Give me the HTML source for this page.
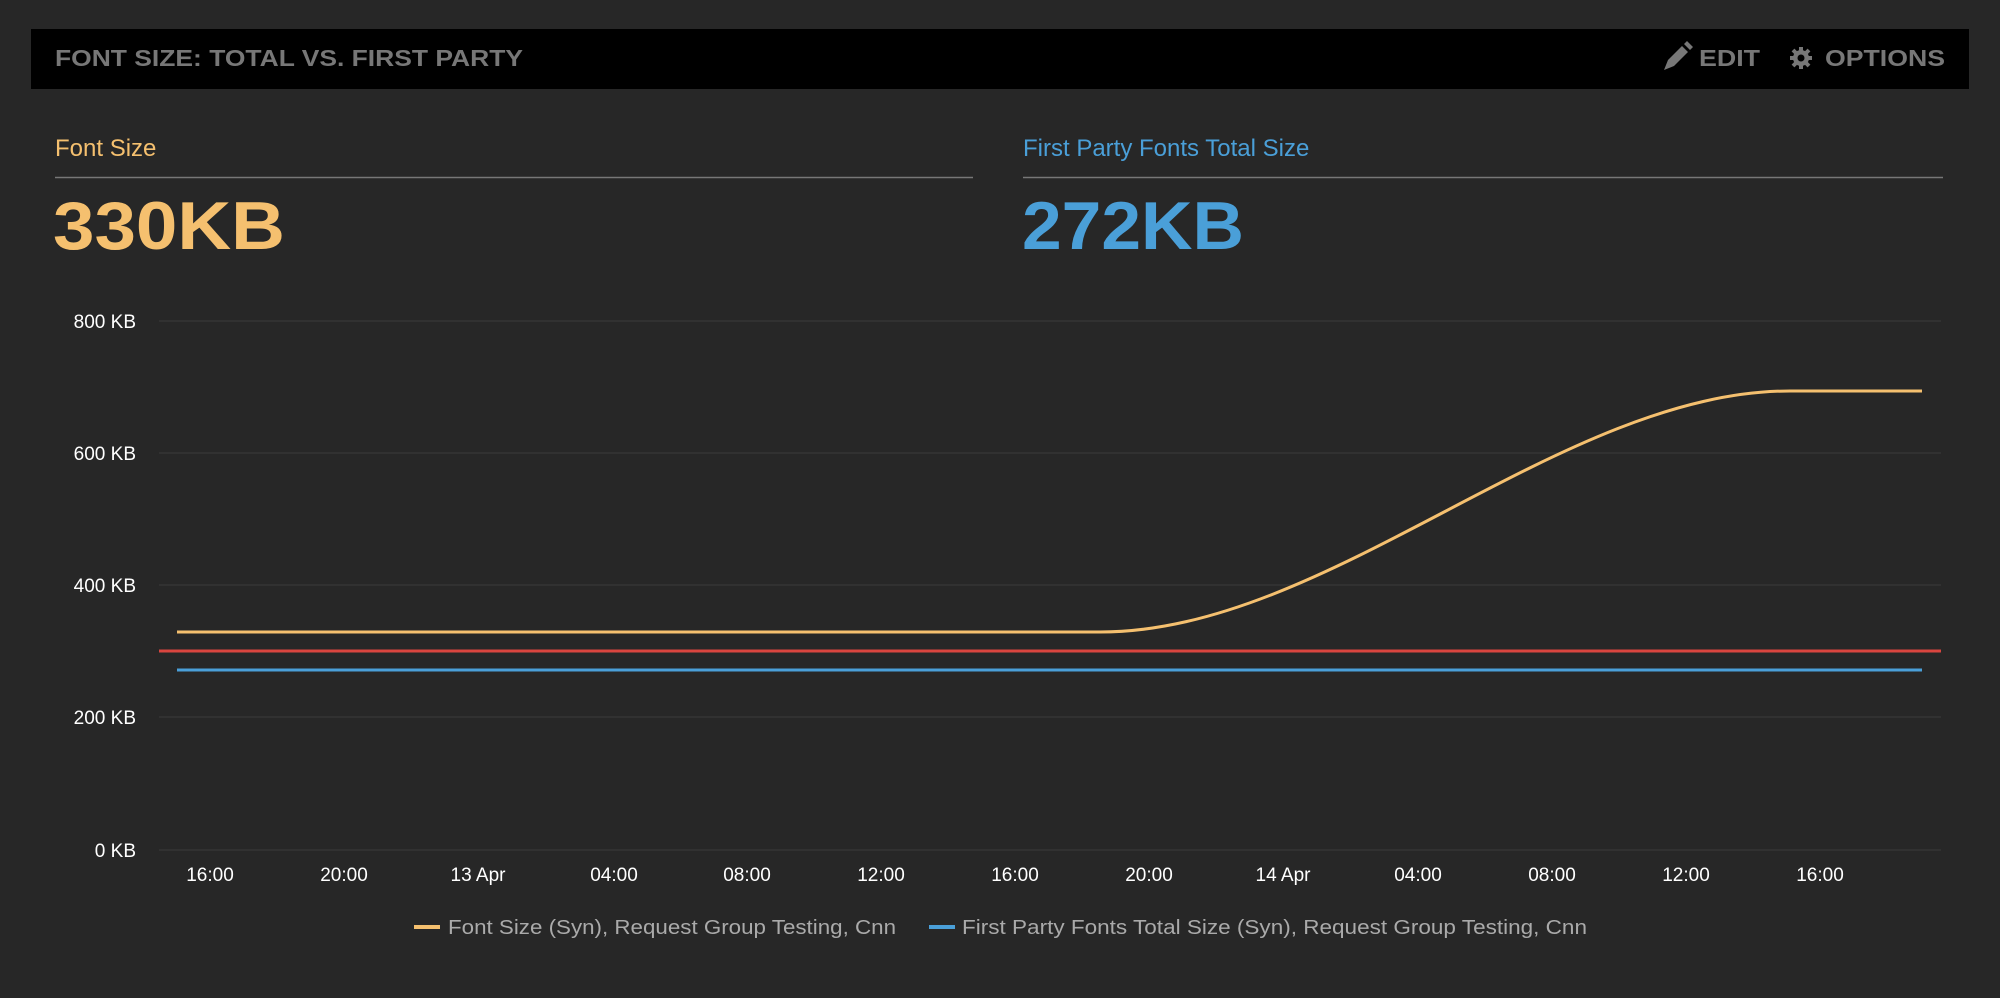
<!DOCTYPE html>
<html><head><style>
body{margin:0;width:2000px;height:998px;background:#272727;overflow:hidden;font-family:"Liberation Sans",sans-serif;}
</style></head><body>
<svg width="2000" height="998" xmlns="http://www.w3.org/2000/svg" style="position:absolute;left:0;top:0">
<rect x="31" y="29" width="1938" height="60" fill="#000"/>
<text x="55" y="66" font-size="23" font-weight="bold" fill="#777" textLength="468" lengthAdjust="spacingAndGlyphs">FONT SIZE: TOTAL VS. FIRST PARTY</text>
<g fill="#777">
<path d="M1664,70 l4,-10 l14,-14 l6,6 l-14,14 z M1684,44 l3,-3 l6,6 l-3,3 z"/>
<text x="1699" y="66" font-size="23" font-weight="bold" textLength="61" lengthAdjust="spacingAndGlyphs">EDIT</text>
<circle cx="1801" cy="58" r="8"/><circle cx="1801" cy="58" r="3.5" fill="#000"/>
<g stroke="#777" stroke-width="4"><line x1="1801" y1="47" x2="1801" y2="69"/><line x1="1790" y1="58" x2="1812" y2="58"/><line x1="1793" y1="50" x2="1809" y2="66"/><line x1="1809" y1="50" x2="1793" y2="66"/></g>
<circle cx="1801" cy="58" r="3.5" fill="#000"/>
<text x="1825" y="66" font-size="23" font-weight="bold" textLength="120" lengthAdjust="spacingAndGlyphs">OPTIONS</text>
</g>
<text x="55" y="156" font-size="24" fill="#f5c06f">Font Size</text>
<line x1="55" y1="177.5" x2="973" y2="177.5" stroke="#777" stroke-width="1.5"/>
<text x="53" y="249" font-size="68" font-weight="bold" fill="#f5c06f" textLength="232" lengthAdjust="spacingAndGlyphs">330KB</text>
<text x="1023" y="156" font-size="24" fill="#4a9fd8">First Party Fonts Total Size</text>
<line x1="1023" y1="177.5" x2="1943" y2="177.5" stroke="#777" stroke-width="1.5"/>
<text x="1022" y="249" font-size="68" font-weight="bold" fill="#4a9fd8" textLength="222" lengthAdjust="spacingAndGlyphs">272KB</text>
<g stroke="#353535" stroke-width="1.5">
<line x1="159" y1="321" x2="1941" y2="321"/><line x1="159" y1="453" x2="1941" y2="453"/>
<line x1="159" y1="585" x2="1941" y2="585"/><line x1="159" y1="717" x2="1941" y2="717"/>
<line x1="159" y1="850" x2="1941" y2="850"/>
</g>
<g font-size="19" fill="#fff" text-anchor="end">
<text x="136" y="328">800 KB</text><text x="136" y="460">600 KB</text><text x="136" y="592">400 KB</text><text x="136" y="724">200 KB</text><text x="136" y="857">0 KB</text>
</g>
<g font-size="19" fill="#fff" text-anchor="middle">
<text x="210" y="881">16:00</text><text x="344" y="881">20:00</text><text x="478" y="881">13 Apr</text><text x="614" y="881">04:00</text><text x="747" y="881">08:00</text><text x="881" y="881">12:00</text><text x="1015" y="881">16:00</text><text x="1149" y="881">20:00</text><text x="1283" y="881">14 Apr</text><text x="1418" y="881">04:00</text><text x="1552" y="881">08:00</text><text x="1686" y="881">12:00</text><text x="1820" y="881">16:00</text>
</g>
<line x1="159" y1="651" x2="1941" y2="651" stroke="#d9453f" stroke-width="3"/>
<line x1="177" y1="670" x2="1922" y2="670" stroke="#4a9fd8" stroke-width="3"/>
<path d="M177,632 L1100,632 C1330,632 1560,391 1790,391 L1922,391" fill="none" stroke="#f5c06f" stroke-width="3"/>
<line x1="414" y1="927" x2="440" y2="927" stroke="#f5c06f" stroke-width="4"/>
<text x="448" y="934" font-size="20" fill="#aaa" textLength="448" lengthAdjust="spacingAndGlyphs">Font Size (Syn), Request Group Testing, Cnn</text>
<line x1="929" y1="927" x2="955" y2="927" stroke="#4a9fd8" stroke-width="4"/>
<text x="962" y="934" font-size="20" fill="#aaa" textLength="625" lengthAdjust="spacingAndGlyphs">First Party Fonts Total Size (Syn), Request Group Testing, Cnn</text>
</svg>
</body></html>
